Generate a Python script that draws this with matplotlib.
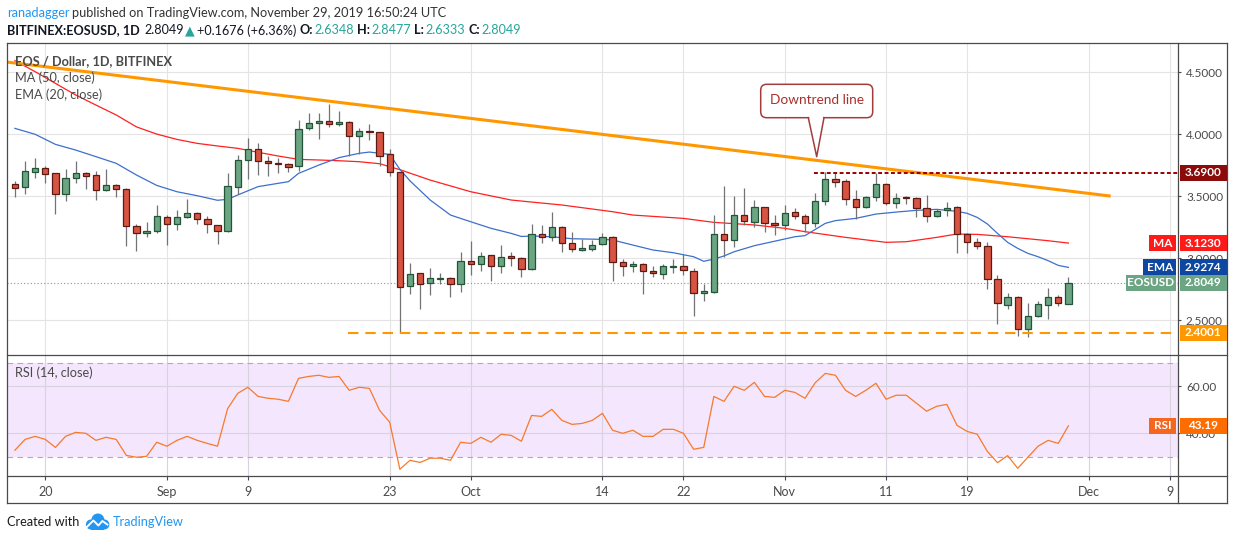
import numpy as np
import pandas as pd
import matplotlib
matplotlib.use('Agg')
import matplotlib.pyplot as plt
import matplotlib.transforms as mtransforms
from matplotlib.patches import Rectangle, FancyBboxPatch, Polygon, Circle
from matplotlib.lines import Line2D

plt.rcParams['font.family'] = ['Lato', 'DejaVu Sans']

W, H = 1234, 540

# ---- daily candles, EOS/USD (Bitfinex) ----
start = '2019-08-17'
dates = pd.date_range(start, '2019-11-29', freq='D')

opens = [3.597, 3.572, 3.693, 3.726, 3.685, 3.516, 3.645, 3.685, 3.669, 3.548, 3.589, 3.556, 3.258, 3.201, 3.218,
         3.330, 3.274, 3.330, 3.363, 3.314, 3.266, 3.218, 3.572, 3.790, 3.879, 3.782, 3.768, 3.758, 3.742, 4.048,
         4.088, 4.105, 4.080, 4.097, 3.984, 4.024, 4.016, 3.838, 3.693, 2.774, 2.879, 2.798, 2.836, 2.838, 2.790,
         2.976, 2.951, 3.024, 2.935, 3.016, 3.000, 2.911, 3.193, 3.169, 3.250, 3.121, 3.064, 3.072, 3.113, 3.169,
         2.967, 2.935, 2.951, 2.895, 2.876, 2.933, 2.935, 2.895, 2.717, 2.726, 3.193, 3.145, 3.347, 3.290, 3.411,
         3.282, 3.266, 3.371, 3.338, 3.282, 3.459, 3.637, 3.621, 3.476, 3.411, 3.492, 3.597, 3.443, 3.492, 3.484,
         3.403, 3.338, 3.387, 3.411, 3.193, 3.129, 3.097, 2.830, 2.621, 2.691, 2.427, 2.532, 2.621, 2.691, 2.6348]
highs = [3.624, 3.785, 3.809, 3.744, 3.690, 3.720, 3.785, 3.699, 3.704, 3.720, 3.597, 3.564, 3.277, 3.290, 3.427,
         3.346, 3.387, 3.476, 3.371, 3.338, 3.270, 3.688, 3.833, 3.968, 3.930, 3.825, 3.806, 3.766, 4.113, 4.169,
         4.169, 4.244, 4.185, 4.105, 4.048, 4.080, 4.020, 3.879, 3.700, 2.960, 2.885, 2.922, 2.882, 2.846, 3.048,
         3.137, 3.048, 3.030, 3.105, 3.048, 3.008, 3.274, 3.266, 3.371, 3.258, 3.209, 3.153, 3.145, 3.201, 3.177,
         2.992, 2.976, 2.960, 2.935, 2.951, 2.992, 3.032, 2.919, 2.795, 3.347, 3.580, 3.502, 3.564, 3.470, 3.415,
         3.347, 3.427, 3.403, 3.355, 3.524, 3.693, 3.693, 3.637, 3.548, 3.500, 3.685, 3.605, 3.524, 3.500, 3.492,
         3.508, 3.395, 3.451, 3.419, 3.201, 3.161, 3.129, 2.868, 2.723, 2.695, 2.637, 2.658, 2.758, 2.701, 2.8477]
lows = [3.497, 3.521, 3.650, 3.610, 3.360, 3.465, 3.610, 3.559, 3.473, 3.545, 3.497, 3.102, 3.062, 3.175, 3.201,
        3.110, 3.231, 3.322, 3.279, 3.207, 3.118, 3.210, 3.521, 3.637, 3.669, 3.661, 3.688, 3.693, 3.707, 4.032,
        3.965, 4.056, 4.064, 3.825, 3.841, 3.957, 3.747, 3.664, 2.395, 2.709, 2.591, 2.707, 2.790, 2.685, 2.728,
        2.868, 2.900, 2.820, 2.884, 2.940, 2.852, 2.903, 3.126, 3.137, 3.048, 3.048, 3.056, 3.056, 3.105, 2.820,
        2.860, 2.892, 2.715, 2.852, 2.836, 2.884, 2.868, 2.537, 2.658, 2.720, 3.008, 3.089, 3.266, 3.250, 3.209,
        3.185, 3.226, 3.314, 3.209, 3.250, 3.427, 3.572, 3.427, 3.314, 3.403, 3.459, 3.427, 3.403, 3.435, 3.330,
        3.290, 3.330, 3.338, 3.040, 3.040, 3.072, 2.755, 2.467, 2.588, 2.371, 2.363, 2.524, 2.508, 2.613, 2.6333]
closes = [3.565, 3.701, 3.726, 3.677, 3.516, 3.645, 3.685, 3.666, 3.548, 3.589, 3.556, 3.258, 3.201, 3.218, 3.338,
          3.274, 3.330, 3.363, 3.314, 3.274, 3.218, 3.580, 3.790, 3.879, 3.782, 3.766, 3.758, 3.734, 4.040, 4.088,
          4.105, 4.080, 4.097, 3.984, 4.024, 4.016, 3.822, 3.693, 2.766, 2.871, 2.790, 2.838, 2.840, 2.790, 2.976,
          2.951, 3.016, 2.935, 3.008, 3.000, 2.911, 3.193, 3.169, 3.250, 3.121, 3.072, 3.080, 3.105, 3.169, 2.967,
          2.935, 2.951, 2.895, 2.884, 2.935, 2.937, 2.903, 2.717, 2.734, 3.193, 3.145, 3.347, 3.298, 3.411, 3.282,
          3.266, 3.363, 3.338, 3.282, 3.459, 3.637, 3.613, 3.476, 3.411, 3.492, 3.597, 3.443, 3.484, 3.484, 3.403,
          3.338, 3.379, 3.403, 3.193, 3.129, 3.097, 2.830, 2.637, 2.691, 2.427, 2.532, 2.629, 2.685, 2.637, 2.8049]

rsi_vals = [32.8, 37.4, 38.7, 37.4, 34.0, 38.7, 40.4, 40.0, 37.0, 38.3, 37.4, 30.6, 29.8, 30.2, 36.2,
            34.5, 37.0, 38.7, 37.0, 35.7, 34.5, 50.5, 57.0, 59.6, 55.7, 54.9, 54.5, 53.6, 63.4, 64.2,
            64.7, 63.8, 64.2, 58.3, 59.6, 59.1, 49.8, 44.7, 24.7, 28.5, 27.6, 29.4, 29.4, 28.5, 36.2,
            35.7, 38.3, 36.2, 39.6, 39.1, 36.6, 47.6, 47.2, 50.2, 45.5, 43.8, 44.2, 45.5, 48.5, 41.3,
            40.0, 41.3, 38.7, 38.7, 41.7, 41.7, 40.0, 33.2, 34.0, 55.7, 53.6, 60.0, 58.3, 61.7, 55.7,
            55.3, 58.3, 57.4, 54.9, 61.5, 65.5, 64.7, 58.3, 55.7, 58.3, 61.3, 54.5, 56.2, 56.2, 52.8,
            49.4, 51.5, 52.3, 43.4, 40.8, 39.6, 32.3, 27.5, 30.5, 25.1, 29.8, 34.5, 37.0, 35.7, 43.19]

# MA(50) and EMA(20) at sample dates
ma_dates = ['2019-08-17', '2019-08-19', '2019-08-21', '2019-08-23', '2019-08-25', '2019-08-27', '2019-08-29',
            '2019-08-31', '2019-09-02', '2019-09-04', '2019-09-06', '2019-09-08', '2019-09-10', '2019-09-12',
            '2019-09-14', '2019-09-16', '2019-09-18', '2019-09-20', '2019-09-22', '2019-09-24', '2019-09-27',
            '2019-10-01', '2019-10-05', '2019-10-10', '2019-10-15', '2019-10-17', '2019-10-22', '2019-10-25',
            '2019-10-29', '2019-11-01', '2019-11-03', '2019-11-07', '2019-11-11', '2019-11-13', '2019-11-16',
            '2019-11-18', '2019-11-20', '2019-11-23', '2019-11-27', '2019-11-29']
ma_vals = [4.594, 4.505, 4.411, 4.317, 4.236, 4.156, 4.060, 4.002, 3.959, 3.927, 3.906, 3.887, 3.855, 3.825,
           3.798, 3.793, 3.787, 3.779, 3.763, 3.715, 3.631, 3.537, 3.470, 3.430, 3.376, 3.349, 3.322, 3.290,
           3.269, 3.242, 3.215, 3.169, 3.129, 3.134, 3.169, 3.196, 3.193, 3.174, 3.142, 3.123]

ema_dates = ['2019-08-17', '2019-08-19', '2019-08-21', '2019-08-23', '2019-08-25', '2019-08-27', '2019-08-29',
             '2019-08-31', '2019-09-02', '2019-09-04', '2019-09-06', '2019-09-07', '2019-09-08', '2019-09-10',
             '2019-09-12', '2019-09-13', '2019-09-14', '2019-09-16', '2019-09-18', '2019-09-20', '2019-09-21',
             '2019-09-22', '2019-09-23', '2019-09-24', '2019-09-25', '2019-09-27', '2019-09-29', '2019-10-01',
             '2019-10-03', '2019-10-05', '2019-10-06', '2019-10-07', '2019-10-09', '2019-10-11', '2019-10-14',
             '2019-10-15', '2019-10-17', '2019-10-19', '2019-10-21', '2019-10-23', '2019-10-24', '2019-10-25',
             '2019-10-26', '2019-10-27', '2019-10-29', '2019-10-31', '2019-11-02', '2019-11-03', '2019-11-05',
             '2019-11-06', '2019-11-08', '2019-11-10', '2019-11-12', '2019-11-14', '2019-11-16', '2019-11-18',
             '2019-11-19', '2019-11-20', '2019-11-21', '2019-11-22', '2019-11-23', '2019-11-24', '2019-11-25',
             '2019-11-26', '2019-11-27', '2019-11-28', '2019-11-29']
ema_vals = [4.048, 4.000, 3.919, 3.873, 3.820, 3.766, 3.672, 3.588, 3.537, 3.505, 3.468, 3.476, 3.511, 3.578,
            3.605, 3.618, 3.685, 3.752, 3.812, 3.847, 3.857, 3.847, 3.838, 3.718, 3.625, 3.470, 3.349, 3.295,
            3.242, 3.201, 3.176, 3.180, 3.174, 3.158, 3.153, 3.148, 3.107, 3.067, 3.045, 3.013, 2.976, 2.994,
            3.019, 3.053, 3.102, 3.138, 3.174, 3.183, 3.282, 3.304, 3.322, 3.357, 3.373, 3.387, 3.395, 3.379,
            3.363, 3.330, 3.277, 3.201, 3.129, 3.080, 3.040, 3.013, 2.981, 2.943, 2.927]

# drawn levels
trend_x = [-0.81, 108.17]       # day offsets from first candle
trend_y = [4.583, 3.502]
support_level, support_from = 2.4001, 32.85
resist_level, resist_from = 3.69, 78.9
last_price = 2.8049

tick_dates = ['2019-08-20', '2019-09-01', '2019-09-09', '2019-09-23', '2019-10-01', '2019-10-14',
              '2019-10-22', '2019-11-01', '2019-11-11', '2019-11-19', '2019-12-01', '2019-12-09']
tick_labels = ['20', 'Sep', '9', '23', 'Oct', '14', '22', 'Nov', '11', '19', 'Dec', '9']


def day_offset(ds):
    return np.array((pd.to_datetime(ds) - pd.Timestamp(start)).days, dtype=float)


x = np.arange(len(dates))
ma_x = day_offset(ma_dates)
ema_x = day_offset(ema_dates)
tick_x = day_offset(tick_dates)

GREEN, GREEN_EDGE = '#6ba583', '#225437'
RED, RED_EDGE = '#d75442', '#5b1a13'
WICK = '#737375'
GRID = '#e4e4e4'
FRAME = '#4a4a4a'
TXT = '#4a4a4a'

fig = plt.figure(figsize=(W / 100, H / 100), dpi=100)
fig.patch.set_facecolor('white')
PX = mtransforms.Affine2D().scale(1, -1).translate(0, H)   # pixel coords, origin top-left

L, R = 6.7, 1177.5
T_MAIN, B_MAIN, B_RSI = 43.3, 355.3, 476.3
ax = fig.add_axes([L / W, 1 - B_MAIN / H, (R - L) / W, (B_MAIN - T_MAIN) / H])
rax = fig.add_axes([L / W, 1 - B_RSI / H, (R - L) / W, (B_RSI - B_MAIN) / H], sharex=ax)

xlim = (-0.81, 114.77)
ax.set_xlim(*xlim)
ax.set_ylim(2.218, 4.734)
rax.set_ylim(21.7, 73.2)

for a in (ax, rax):
    for s in a.spines.values():
        s.set_visible(False)
    a.set_facecolor('white')
    a.grid(True, color=GRID, lw=0.8, zorder=0.5)
    a.set_axisbelow(True)
    a.yaxis.tick_right()

ax.set_xticks(tick_x)
ax.tick_params(axis='x', length=0, labelbottom=False)
rax.tick_params(axis='x', length=3, width=0.8, color=FRAME, labelsize=9, labelcolor=TXT, pad=4)
rax.set_xticklabels(tick_labels)

ax.set_yticks([2.5, 3.0, 3.5, 4.0, 4.5])
ax.set_yticklabels(['%.4f' % v for v in [2.5, 3.0, 3.5, 4.0, 4.5]])
rax.set_yticks([40, 60])
rax.set_yticklabels(['40.00', '60.00'])
for a in (ax, rax):
    a.tick_params(axis='y', length=2.4, width=0.8, color=FRAME, labelsize=8.5, labelcolor=TXT, pad=3.7)

# candles
for i in range(len(x)):
    o, h, l, c = opens[i], highs[i], lows[i], closes[i]
    up = c >= o
    ax.vlines(x[i], l, h, color=WICK, lw=0.9, zorder=3)
    body_h = max(abs(c - o), 0.006)
    ax.add_patch(Rectangle((x[i] - 0.31, min(o, c)), 0.62, body_h,
                           facecolor=GREEN if up else RED, edgecolor=GREEN_EDGE if up else RED_EDGE,
                           lw=0.9, zorder=4))

ax.plot(ma_x, ma_vals, color='#ff2020', lw=0.9, zorder=2)
ax.plot(ema_x, ema_vals, color='#3d6fcc', lw=0.9, zorder=2)
ax.plot(trend_x, trend_y, color='#ff9800', lw=2.2, solid_capstyle='butt', zorder=5)
ax.plot([support_from, xlim[1]], [support_level] * 2, color='#ff9800', lw=1.5, dashes=(5, 3.3), zorder=5)
ax.plot([resist_from, xlim[1]], [resist_level] * 2, color='#990000', lw=1.4, dashes=(2, 1.3), zorder=5)
ax.axhline(last_price, color=GREEN, lw=0.8, dashes=(1, 2), zorder=1)

# RSI pane
rax.axhspan(30, 70, color='#f3e6fd', zorder=0.2, lw=0)
for lvl in (30, 70):
    rax.axhline(lvl, color='#b1a9bb', lw=0.8, dashes=(5, 4), zorder=0.6)
rax.plot(x, rsi_vals, color='#f77a2c', lw=0.9, zorder=3)
rax.grid(True, color='#d9d2e0', lw=0.8, zorder=0.5)

# pane legends
for txt, yy, wt in [('EOS / Dollar, 1D, BITFINEX', 60.7, 'bold'), ('MA (50, close)', 77.3, 'normal'),
                    ('EMA (20, close)', 94.3, 'normal'), ('RSI (14, close)', 373.0, 'normal')]:
    fig.text(15, yy, txt, transform=PX, color=TXT, fontsize=9.2, weight=wt, va='center', ha='left', zorder=10)

# frame lines
frame = [((L, 1226.7), (T_MAIN, T_MAIN)), ((L, 1226.7), (503.3, 503.3)), ((L, L), (T_MAIN, 503.3)),
         ((1226.7, 1226.7), (T_MAIN, 503.3)), ((R, R), (T_MAIN, 503.3)),
         ((L, 1226.7), (B_MAIN, B_MAIN)), ((L, 1226.7), (B_RSI, B_RSI))]
for xs, ys in frame:
    fig.add_artist(Line2D(xs, ys, transform=PX, color=FRAME, lw=0.9, zorder=8))


def y_px(axis, v):
    return H - axis.transData.transform((0, v))[1]


def tag(axis, value, text, color, name=None, name_x0=None, name_color=None):
    yc = y_px(axis, value)
    fig.add_artist(Rectangle((1180, yc - 8), 46.7, 16, transform=PX, facecolor=color, lw=0, zorder=9))
    fig.text(1203.3, yc, text, transform=PX, color='white', weight='bold', fontsize=8.5,
             ha='center', va='center', zorder=10)
    if name:
        fig.add_artist(Rectangle((name_x0, yc - 8), 1176 - name_x0, 16, transform=PX,
                                 facecolor=name_color or color, lw=0, zorder=9))
        fig.text((name_x0 + 1176) / 2, yc, name, transform=PX, color='white', weight='bold', fontsize=8.5,
                 ha='center', va='center', zorder=10)


tag(ax, resist_level, '3.6900', '#8b0a0a')
tag(ax, ma_vals[-1], '3.1230', '#ff1a1a', 'MA', 1149.3)
tag(ax, ema_vals[-1], '2.9274', '#0d47a1', 'EMA', 1143.3)
tag(ax, last_price, '2.8049', GREEN, 'EOSUSD', 1126)
tag(ax, support_level, '2.4001', '#ff9800')
tag(rax, rsi_vals[-1], '43.19', '#ff6d00', 'RSI', 1149, '#f5661f')

# callout
cc = '#a33d3d'
fig.add_artist(FancyBboxPatch((760.7, 84.3), 112, 33.4, boxstyle='round,pad=0,rounding_size=6',
                              transform=PX, facecolor='white', edgecolor=cc, lw=1.1, zorder=9))
fig.add_artist(Polygon([(809.0, 116.0), (823.3, 116.0), (816.7, 156.7)], closed=True, transform=PX,
                       facecolor='white', edgecolor='none', zorder=9.5))
fig.add_artist(Line2D([808.3, 816.7, 824.0], [117.7, 156.7, 117.7], transform=PX, color=cc, lw=1.1,
                      zorder=9.6))
fig.text(816.7, 100.5, 'Downtrend line', transform=PX, color='#a8302a', fontsize=9.8, ha='center',
         va='center', zorder=10)

# header
renderer = fig.canvas.get_renderer()


def chain(x0, y0, pieces, size):
    xx = x0
    for text, color, weight, gap in pieces:
        xx += gap
        t = fig.text(xx, y0, text, transform=PX, color=color, weight=weight, fontsize=size,
                     ha='left', va='center')
        xx += t.get_window_extent(renderer).width
    return xx


TEAL, DARK = '#26a69a', '#131722'
chain(7, 13.3, [('ranadagger', '#2196f3', 'normal', 0),
                ('published on TradingView.com, November 29, 2019 16:50:24 UTC', '#333333', 'normal', 3)], 9.2)
chain(7, 30.5, [('BITFINEX:EOSUSD, 1D', DARK, 'bold', 0), ('2.8049', DARK, 'normal', 4.5),
                ('\u25b2', TEAL, 'normal', 1.5), ('+0.1676 (+6.36%)', DARK, 'normal', 1.5),
                ('O:', DARK, 'bold', 3.5), ('2.6348', TEAL, 'normal', 1),
                ('H:', DARK, 'bold', 3.5), ('2.8477', TEAL, 'normal', 1),
                ('L:', DARK, 'bold', 3.5), ('2.6333', TEAL, 'normal', 1),
                ('C:', DARK, 'bold', 3.5), ('2.8049', TEAL, 'normal', 1)], 9.1)

# footer
x_end = chain(7, 522.3, [('Created with', '#1c1c1c', 'normal', 0)], 9.2)
lx = x_end + 5
for dx, cy, r in [(6.5, 524.5, 5), (13.5, 520.0, 6.5), (20.0, 524.5, 5)]:
    fig.add_artist(Circle((lx + dx, cy), r, transform=PX, facecolor='#2196f3', lw=0, zorder=5))
fig.add_artist(Rectangle((lx + 6.5, 523), 13.5, 6.5, transform=PX, facecolor='#2196f3', lw=0, zorder=5))
fig.add_artist(Line2D([lx + 2.5, lx + 9, lx + 14, lx + 18, lx + 23], [527, 520.5, 525.5, 521, 524.5],
                      transform=PX, color='white', lw=1.4, zorder=6))
fig.text(lx + 28, 522.3, 'TradingView', transform=PX, color='#2196f3', fontsize=9.2, ha='left', va='center')

fig.savefig('out.png', dpi=100, facecolor='white')
